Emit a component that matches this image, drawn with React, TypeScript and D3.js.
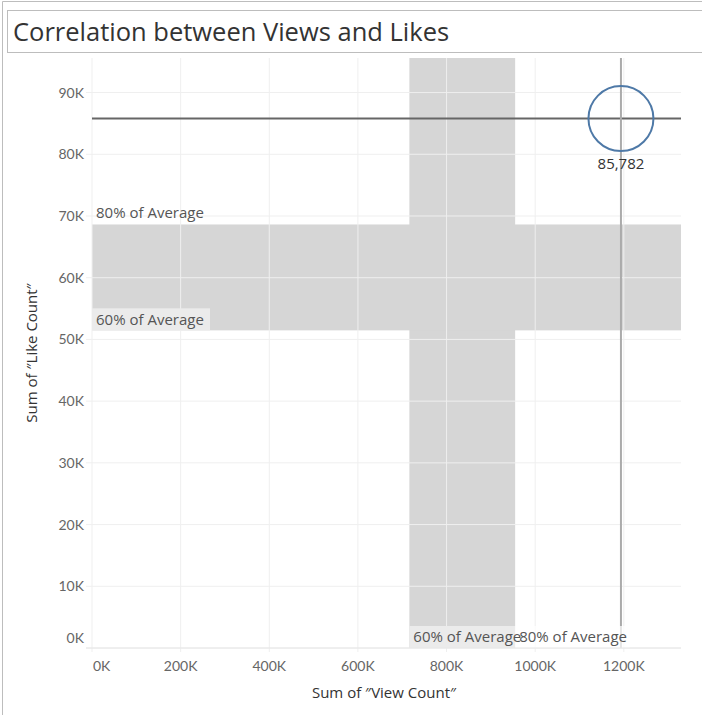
import React from "react";
import * as d3 from "d3";

const title = "Correlation between Views and Likes";
const xAxisTitle = "Sum of \u2033View Count\u2033";
const yAxisTitle = "Sum of \u2033Like Count\u2033";

const sumViews = [1193500];
const sumLikes = [85782];
const xTicks = [0, 200000, 400000, 600000, 800000, 1000000, 1200000];
const yTicks = [0, 10000, 20000, 30000, 40000, 50000, 60000, 70000, 80000, 90000];
const bandFractions = [0.6, 0.8];
const bandLabels = ["60% of Average", "80% of Average"];
const xDomain = [0, 1329000];
const yDomain = [0, 95600];

const FONT = "Lato, 'Noto Sans', sans-serif";
const FONT2 = "'Open Sans', 'Noto Sans', sans-serif";

export default function App() {
  const W = 702, H = 715;
  const left = 92, right = 681, top = 58, bottom = 648;
  const x = d3.scaleLinear().domain(xDomain).range([left, right]);
  const y = d3.scaleLinear().domain(yDomain).range([bottom, top]);
  const fmt = (v: number) => `${v / 1000}K`;
  const avgX = d3.mean(sumViews) as number;
  const avgY = d3.mean(sumLikes) as number;
  const xb0 = x(avgX * bandFractions[0]), xb1 = x(avgX * bandFractions[1]);
  const yb0 = y(avgY * bandFractions[0]), yb1 = y(avgY * bandFractions[1]);

  return (
    <svg width={W} height={H} style={{ position: "absolute", left: 0, top: 0, background: "#fff" }} fontFamily={FONT}>
      {/* outer frame */}
      <line x1={2.5} y1={1.5} x2={2.5} y2={H} stroke="#bdbdbd" />
      <line x1={2.5} y1={1.5} x2={W} y2={1.5} stroke="#bdbdbd" />
      {/* title box */}
      <rect x={7.5} y={10.5} width={W} height={42} fill="#fff" stroke="#bdbdbd" />
      <text x={13} y={41} fontSize={25.5} fill="#333" fontFamily={FONT2}>{title}</text>

      {/* bands */}
      <rect x={xb0} y={top} width={xb1 - xb0} height={bottom - top} fill="#d6d6d6" />
      <rect x={left} y={yb1} width={right - left} height={yb0 - yb1} fill="#d6d6d6" />

      {/* grid */}
      {xTicks.map((t) => (
        <line key={"gx" + t} x1={x(t)} x2={x(t)} y1={top} y2={bottom + 4} stroke="#efefef" strokeWidth={1} />
      ))}
      {yTicks.map((t) => (
        <line key={"gy" + t} x1={left - 6} x2={right} y1={y(t)} y2={y(t)} stroke="#efefef" strokeWidth={1} />
      ))}

      {/* band labels for y band */}
      <text x={left + 4} y={yb1 - 6} fontSize={15} fill="#555" fontFamily={FONT2}>{bandLabels[1]}</text>
      <rect x={left} y={yb0 - 22} width={118} height={22} fill="#ebebeb" />
      <text x={left + 4} y={yb0 - 5} fontSize={15} fill="#555" fontFamily={FONT2}>{bandLabels[0]}</text>

      {/* avg lines */}
      <line x1={left} x2={right} y1={y(avgY)} y2={y(avgY)} stroke="#666" strokeWidth={2} />
      <line x1={x(avgX)} x2={x(avgX)} y1={top} y2={bottom} stroke="#ababab" strokeWidth={2} />

      {/* band labels for x band */}
      <rect x={xb0} y={bottom - 22} width={xb1 - xb0} height={22} fill="#ebebeb" />
      <rect x={xb1} y={bottom - 22} width={x(avgX) - xb1 + 9} height={22} fill="#fff" opacity={0.7} />
      <text x={xb0 + 4} y={bottom - 6} fontSize={15} fill="#555" fontFamily={FONT2}>{bandLabels[0]}</text>
      <text x={xb1 + 4} y={bottom - 6} fontSize={15} fill="#555" fontFamily={FONT2}>{bandLabels[1]}</text>

      {/* mark */}
      {sumViews.map((v, i) => (
        <g key={"m" + i}>
          <circle cx={x(v)} cy={y(sumLikes[i])} r={32.5} fill="none" stroke="#4e79a7" strokeWidth={2} />
          <text x={x(v)} y={y(sumLikes[i]) + 50} fontSize={15} fill="#333" textAnchor="middle" fontFamily={FONT2}>
            {d3.format(",")(sumLikes[i])}
          </text>
        </g>
      ))}

      {/* axes */}
      <line x1={left - 6} x2={right} y1={bottom} y2={bottom} stroke="#e6e6e6" />
      {xTicks.map((t, i) => (
        <text key={"xl" + t} x={i === 0 ? x(t) + 1 : x(t)} y={671} fontSize={14} fill="#666"
          textAnchor={i === 0 ? "start" : "middle"}>{fmt(t)}</text>
      ))}
      {yTicks.map((t, i) => (
        <text key={"yl" + t} x={84} y={i === 0 ? y(t) - 5 : y(t) + 5} fontSize={14} fill="#666" textAnchor="end">{fmt(t)}</text>
      ))}
      <text x={384} y={698} fontSize={15} fill="#333" textAnchor="middle" fontFamily={FONT2}>{xAxisTitle}</text>
      <text transform={`translate(37,353) rotate(-90)`} fontSize={15} fill="#333" textAnchor="middle" fontFamily={FONT2}>{yAxisTitle}</text>
    </svg>
  );
}
